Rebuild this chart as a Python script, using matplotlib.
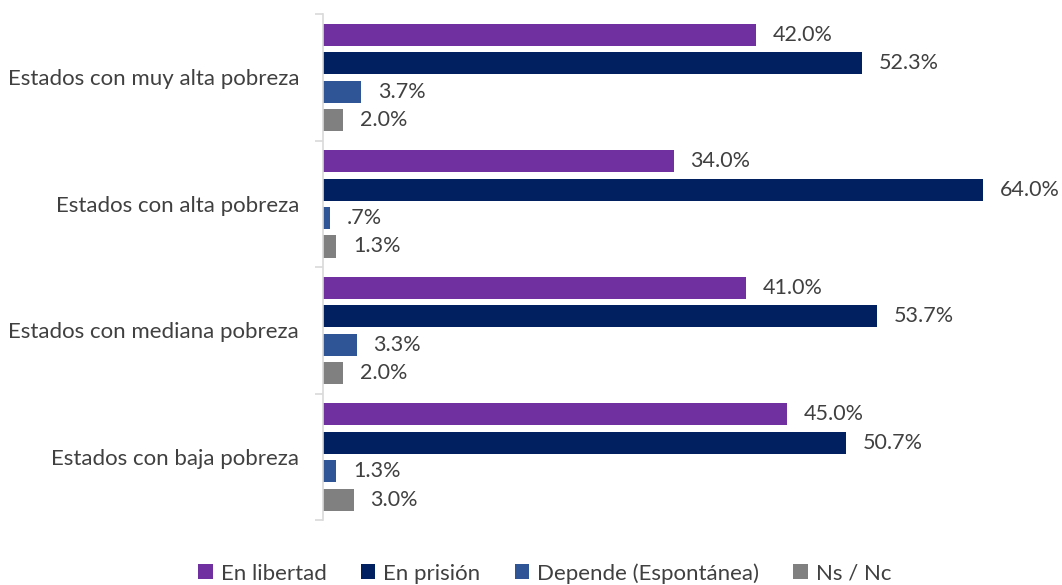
import matplotlib
matplotlib.use('Agg')
import matplotlib.pyplot as plt
from matplotlib.patches import Patch
import numpy as np

plt.rcParams['font.family'] = ['Lato', 'DejaVu Sans']

# Data
categories = ['Estados con muy alta pobreza', 'Estados con alta pobreza',
              'Estados con mediana pobreza', 'Estados con baja pobreza']
series_names = ['En libertad', 'En prisión', 'Depende (Espontánea)', 'Ns / Nc']
en_libertad = [42.0, 34.0, 41.0, 45.0]
en_prision = [52.3, 64.0, 53.7, 50.7]
depende = [3.7, 0.7, 3.3, 1.3]
ns_nc = [2.0, 1.3, 2.0, 3.0]
colors = ['#7030A0', '#002060', '#2F5597', '#808080']

series = [en_libertad, en_prision, depende, ns_nc]

fig = plt.figure(figsize=(10.62, 5.85), dpi=100)
ax = fig.add_axes([0.304, 0.111, 0.68, 0.865])

centers = np.arange(len(categories)) + 0.5
step = 0.225
bar_h = 0.174
text_col = '#404040'

for j, (vals, col) in enumerate(zip(series, colors)):
    ys = centers + (j - 1.5) * step
    ax.barh(ys, vals, height=bar_h, color=col)
    for y, v in zip(ys, vals):
        lbl = f'{v:.1f}%'
        if v < 1:
            lbl = lbl.lstrip('0')
        ax.annotate(lbl, (v, y), xytext=(12, 0), textcoords='offset points',
                    va='center', ha='left', fontsize=15.5, color=text_col)

ax.set_xlim(0, 70)
ax.set_ylim(4, 0)

# boundary ticks on the left spine, labels at group centers
ax.set_yticks(np.arange(0, 5))
ax.set_yticklabels([])
ax.set_yticks(centers, minor=True)
ax.set_yticklabels(categories, minor=True, fontsize=16, color=text_col)
ax.tick_params(axis='y', which='major', length=6, color='#D9D9D9', width=1.2)
ax.tick_params(axis='y', which='minor', length=0, pad=17)

ax.set_xticks([])
for s in ['top', 'right', 'bottom']:
    ax.spines[s].set_visible(False)
ax.spines['left'].set_color('#D9D9D9')
ax.spines['left'].set_linewidth(1.2)

handles = [Patch(facecolor=c, label=n) for c, n in zip(colors, series_names)]
fig.legend(handles=handles, loc='center', bbox_to_anchor=(0.513, 0.02),
           ncol=4, frameon=False, fontsize=16, handlelength=0.65, handleheight=0.65,
           handletextpad=0.35, columnspacing=1.55, labelcolor=text_col)

fig.savefig('out.png', dpi=100)
